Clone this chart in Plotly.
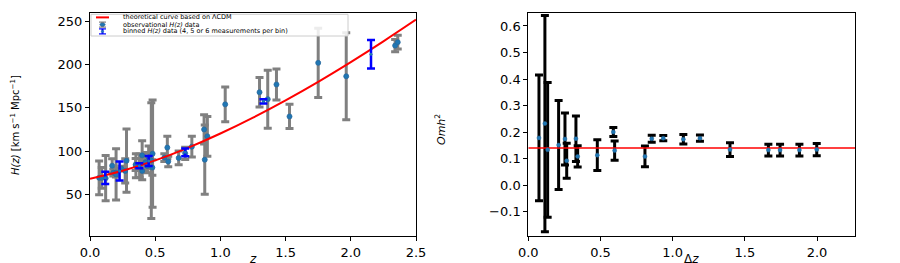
import plotly.graph_objects as go

# ---------------- data ----------------
# Left panel: theoretical LCDM curve values
z_curve = [0.0, 0.25, 0.5, 0.75, 1.0, 1.25, 1.5, 1.75, 2.0, 2.25, 2.5]
H_curve = [68.0, 77.2, 89.2, 103.7, 120.3, 138.7, 158.7, 180.1, 202.9, 226.9, 252.0]

# observational H(z) data
z_obs = [0.07, 0.09, 0.12, 0.17, 0.179, 0.199, 0.20, 0.24, 0.27, 0.28, 0.35, 0.352,
         0.3802, 0.40, 0.4004, 0.4247, 0.43, 0.44, 0.4497, 0.47, 0.4783, 0.48, 0.57,
         0.593, 0.60, 0.68, 0.73, 0.781, 0.875, 0.88, 0.90, 1.037, 1.30, 1.363, 1.43,
         1.53, 1.75, 1.965, 2.34, 2.36]
H_obs = [69.0, 69.0, 68.6, 83.0, 75.0, 75.0, 72.9, 79.7, 77.0, 88.8, 84.4, 83.0,
         83.0, 95.0, 77.0, 87.1, 86.5, 82.6, 92.8, 89.0, 80.9, 97.0, 92.4,
         104.0, 87.9, 92.0, 97.3, 105.0, 125.0, 90.0, 117.0, 154.0, 168.0, 160.0, 177.0,
         140.0, 202.0, 186.5, 222.0, 226.0]
H_obs_err = [19.6, 12.0, 26.2, 8.0, 4.0, 5.0, 29.6, 2.7, 14.0, 36.6, 7.0, 14.0,
             13.5, 17.0, 10.2, 11.2, 3.7, 7.8, 12.9, 67.0, 9.0, 62.0, 4.5,
             13.0, 6.1, 8.0, 7.0, 12.0, 17.0, 40.0, 23.0, 20.0, 17.0, 33.6, 18.0,
             14.0, 40.0, 50.4, 7.0, 8.0]

# binned H(z) data
z_bin = [0.117, 0.227, 0.378, 0.45, 0.73, 1.33, 2.155]
H_bin = [69.0, 77.0, 83.0, 88.6, 98.5, 157.5, 212.0]
H_bin_err = [7.0, 11.0, 3.0, 5.8, 4.5, 2.5, 16.5]

# Right panel: Omh^2 vs delta z
dz = [0.074, 0.115, 0.134, 0.210, 0.254, 0.266, 0.330, 0.342, 0.478, 0.589, 0.598,
      0.808, 0.855, 0.935, 1.074, 1.189, 1.397, 1.663, 1.744, 1.878, 1.998]
omh2 = [0.178, 0.232, 0.133, 0.151, 0.174, 0.092, 0.175, 0.108, 0.113, 0.200, 0.130,
        0.108, 0.175, 0.177, 0.173, 0.177, 0.134, 0.132, 0.132, 0.132, 0.134]
omh2_err = [0.237, 0.408, 0.254, 0.168, 0.098, 0.066, 0.086, 0.040, 0.058, 0.017, 0.036,
            0.039, 0.013, 0.010, 0.018, 0.012, 0.026, 0.022, 0.022, 0.022, 0.023]
OMH2_FID = 0.14

left_xticks = [0.0, 0.5, 1.0, 1.5, 2.0, 2.5]
left_yticks = [50, 100, 150, 200, 250]
right_xticks = [0.0, 0.5, 1.0, 1.5, 2.0]
right_yticks = [-0.1, 0.0, 0.1, 0.2, 0.3, 0.4, 0.5, 0.6]

LEFT_XRANGE = [0, 2.5]
LEFT_YRANGE = [1.7, 259.7]
RIGHT_XRANGE = [0, 2.263]
RIGHT_YRANGE = [-0.192, 0.649]

# ---------------- figure ----------------
W, H = 900, 263
MT, MB = 13, 27
PLOT_TOP, PLOT_BOT = MT, H - MB


def px(x):
    return x / W


def py(y):
    return (PLOT_BOT - y) / (PLOT_BOT - PLOT_TOP)


BLUE = "#1f77b4"
FONT = "DejaVu Sans"

fig = go.Figure()

# left: observational data (gray error bars)
fig.add_trace(go.Scatter(
    x=z_obs, y=H_obs, mode="markers", xaxis="x", yaxis="y",
    marker=dict(symbol="circle", size=5, color=BLUE, line=dict(color="#2a6a9e", width=0.8)),
    error_y=dict(type="data", array=H_obs_err, color="#808080", thickness=3, width=4),
    showlegend=False,
))
# theory curve
fig.add_trace(go.Scatter(
    x=z_curve, y=H_curve, mode="lines", xaxis="x", yaxis="y",
    line=dict(color="#ff0000", width=2, shape="spline"), showlegend=False,
))
# binned data
fig.add_trace(go.Scatter(
    x=z_bin, y=H_bin, mode="markers", xaxis="x", yaxis="y",
    marker=dict(symbol="circle", size=3, color=BLUE),
    error_y=dict(type="data", array=H_bin_err, color="#0000ff", thickness=2.5, width=4),
    showlegend=False,
))

# right: error bars (black)
fig.add_trace(go.Scatter(
    x=dz, y=omh2, mode="markers", xaxis="x2", yaxis="y2",
    marker=dict(size=1, color="rgba(0,0,0,0)"),
    error_y=dict(type="data", array=omh2_err, color="#000000", thickness=3, width=4),
    showlegend=False,
))
# right: fiducial line
fig.add_trace(go.Scatter(
    x=RIGHT_XRANGE, y=[OMH2_FID, OMH2_FID], mode="lines", xaxis="x2", yaxis="y2",
    line=dict(color="#ff0000", width=1.5), showlegend=False,
))
# right: markers
fig.add_trace(go.Scatter(
    x=dz, y=omh2, mode="markers", xaxis="x2", yaxis="y2",
    marker=dict(symbol="circle", size=4, color=BLUE, line=dict(color="#2a6a9e", width=0.5)),
    showlegend=False,
))

axis_common = dict(
    showgrid=False, zeroline=False, showline=True, linecolor="black", linewidth=1,
    mirror=True, ticks="outside", ticklen=4, tickwidth=1, tickcolor="black",
    tickfont=dict(family=FONT, size=13, color="black"), automargin=False,
)

fig.update_layout(
    width=W, height=H,
    margin=dict(l=0, r=0, t=MT, b=MB, pad=0),
    paper_bgcolor="white", plot_bgcolor="white",
    showlegend=False,
    xaxis=dict(domain=[px(90), px(416)], range=LEFT_XRANGE, tickvals=left_xticks,
               tickformat=".1f", anchor="y", **axis_common),
    yaxis=dict(domain=[0, 1], range=LEFT_YRANGE, tickvals=left_yticks, anchor="x",
               **axis_common),
    xaxis2=dict(domain=[px(528.3), px(855)], range=RIGHT_XRANGE, tickvals=right_xticks,
                tickformat=".1f", anchor="y2", **axis_common),
    yaxis2=dict(domain=[0, 1], range=RIGHT_YRANGE, tickvals=right_yticks,
                tickformat=".1f", anchor="x2", **axis_common),
)

# axis titles
ann = [
    dict(x=px(15), y=py(125), text="<i>H(z)</i> [km s<sup>−1</sup> Mpc<sup>−1</sup>]",
         textangle=-90, font=dict(family=FONT, size=10, color="black")),
    dict(x=px(440), y=py(130), text="<i>Omh</i><sup>2</sup>",
         textangle=-90, font=dict(family=FONT, size=11, color="black")),
    dict(x=px(253), y=py(259), text="<i>z</i>",
         font=dict(family=FONT, size=12, color="black")),
    dict(x=px(691), y=py(259), text="Δ<i>z</i>",
         font=dict(family=FONT, size=12, color="black")),
]
for a in ann:
    a.update(xref="paper", yref="paper", showarrow=False, xanchor="center", yanchor="middle")

# legend (drawn manually to match the compact matplotlib legend)
leg_rows = [17.4, 24.6, 31.4]
leg_text = [
    "theoretical curve based on ΛCDM",
    "observational <i>H(z)</i> data",
    "binned <i>H(z)</i> data (4, 5 or 6 measurements per bin)",
]
for yy, t in zip(leg_rows, leg_text):
    ann.append(dict(x=px(121), y=py(yy), text=t, xref="paper", yref="paper",
                    showarrow=False, xanchor="left", yanchor="middle",
                    font=dict(family=FONT, size=6.5, color="black")))
fig.update_layout(annotations=ann)

shapes = [
    dict(type="rect", xref="paper", yref="paper", x0=px(91), x1=px(348), y0=py(36), y1=py(14.3),
         line=dict(color="#cccccc", width=1), fillcolor="rgba(255,255,255,0.85)", layer="above"),
    dict(type="line", xref="paper", yref="paper", x0=px(96), x1=px(109), y0=py(leg_rows[0]),
         y1=py(leg_rows[0]), line=dict(color="#ff0000", width=2), layer="above"),
]
cx = 102.5
for (col, yy, wdt) in [("#808080", leg_rows[1], 3), ("#0000ff", leg_rows[2], 2)]:
    shapes.append(dict(type="line", xref="paper", yref="paper", x0=px(cx), x1=px(cx),
                       y0=py(yy - 2.5), y1=py(yy + 2.5), line=dict(color=col, width=wdt), layer="above"))
    for dy in (-2.5, 2.5):
        shapes.append(dict(type="line", xref="paper", yref="paper", x0=px(cx - 3.5), x1=px(cx + 3.5),
                           y0=py(yy + dy), y1=py(yy + dy), line=dict(color=col, width=1.2), layer="above"))
shapes.append(dict(type="circle", xref="paper", yref="paper", x0=px(cx - 2.8), x1=px(cx + 2.8),
                   y0=py(leg_rows[1] + 1.6), y1=py(leg_rows[1] - 1.6),
                   fillcolor=BLUE, line=dict(color="#2a6a9e", width=0.5), layer="above"))
shapes.append(dict(type="circle", xref="paper", yref="paper", x0=px(cx - 1.2), x1=px(cx + 1.2),
                   y0=py(leg_rows[2] + 1.0), y1=py(leg_rows[2] - 1.0),
                   fillcolor=BLUE, line=dict(color=BLUE, width=0.5), layer="above"))
fig.update_layout(shapes=shapes)

fig.write_html(
    "out.html",
    config={"displayModeBar": False},
    post_script="document.body.style.margin='0';document.body.style.overflow='hidden';",
)
